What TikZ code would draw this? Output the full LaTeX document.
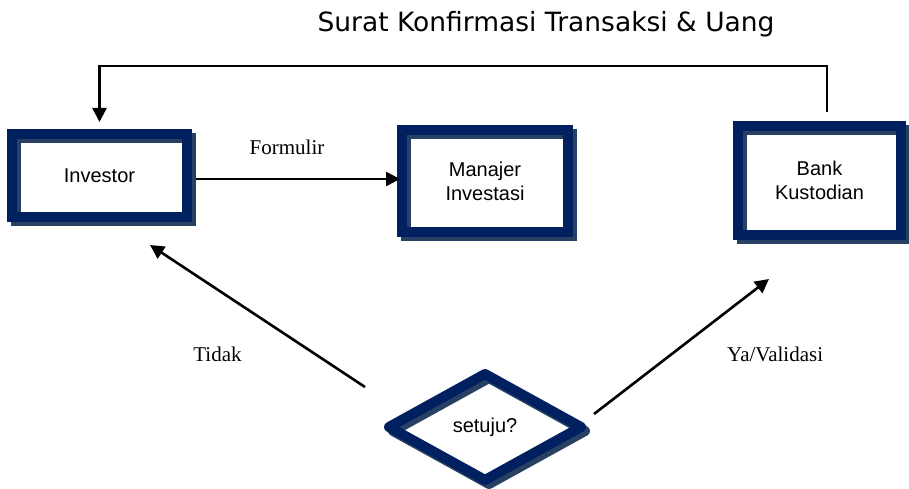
\documentclass[tikz,border=0pt]{standalone}
\usepackage{fontspec}
\setmainfont{Liberation Serif}
\newfontfamily\boxfont{Liberation Sans}
\newfontfamily\titlefont{DejaVu Sans}
\usetikzlibrary{arrows.meta,shapes.geometric,calc}
\pgfdeclarelayer{background}
\pgfsetlayers{background,main}
\definecolor{navy}{RGB}{0,32,96}
\definecolor{shadowcol}{RGB}{40,64,100}
\begin{document}
\begin{tikzpicture}[x=1pt,y=-1pt,
  box/.style={draw=navy, line width=10pt, rectangle, outer sep=0pt, inner sep=0pt,
    font=\boxfont\fontsize{20}{24}\selectfont, align=center},
  decision/.style={draw=navy, line width=10pt, diamond, outer sep=0pt, inner sep=0pt,
    font=\boxfont\fontsize{20}{24}\selectfont, line join=round},
  flow/.style={line width=2.6pt, -{Triangle[length=14pt,width=14pt]}},
  lbl/.style={font=\fontsize{21}{25}\selectfont, inner sep=0pt, anchor=base}]
\useasboundingbox (0,0) rectangle (909,489);

\node[box, minimum width=175pt, minimum height=83pt] (inv) at (99.5,175.5) {Investor};
\node[box, minimum width=166pt, minimum height=102pt] (man) at (485,181) {Manajer\\Investasi};
\node[box, minimum width=163pt, minimum height=109pt] (bank) at (819.5,180.5) {Bank\\Kustodian};
\node[decision, minimum width=192pt, minimum height=106pt] (dec) at (485,427) {setuju?};

\begin{pgfonlayer}{background}
\foreach \n in {inv,man,bank} {
  \fill[white] (\n.north west) rectangle (\n.south east);
  \draw[draw=shadowcol, line width=10pt] ([shift={(4,4)}]\n.north west) rectangle ([shift={(4,4)}]\n.south east);
}
\fill[white] (dec.north) -- (dec.east) -- (dec.south) -- (dec.west) -- cycle;
\draw[draw=shadowcol, line width=10pt, line join=round] ([shift={(4,4)}]dec.north) -- ([shift={(4,4)}]dec.east)
  -- ([shift={(4,4)}]dec.south) -- ([shift={(4,4)}]dec.west) -- cycle;
\end{pgfonlayer}

\draw[flow, shorten <=9pt, shorten >=2pt] ([shift={(0,3.5)}]inv.east) -- ([shift={(0,-2)}]man.west);
\draw[flow, shorten <=14pt, shorten >=12pt] ([shift={(7.5,0)}]bank.north) -- ++(0,-60) -| (inv.north);
\draw[flow] ([shift={(-24,-40)}]dec.west) -- ([shift={(50.5,28)}]inv.south);
\draw[flow] ([shift={(13,-13)}]dec.east) -- ([shift={(-50.5,44)}]bank.south);

\node[lbl] (formulir) at (287,154) {Formulir};
\node[lbl] (tidak) at (217.5,361) {Tidak};
\node[lbl, anchor=base west] (ya) at (727,361) {Ya/Validasi};
\node[font=\titlefont\fontsize{26.5}{30}\selectfont, inner sep=0pt, anchor=base] (title) at (546,32) {Surat Konfirmasi Transaksi \& Uang};
\end{tikzpicture}
\end{document}
